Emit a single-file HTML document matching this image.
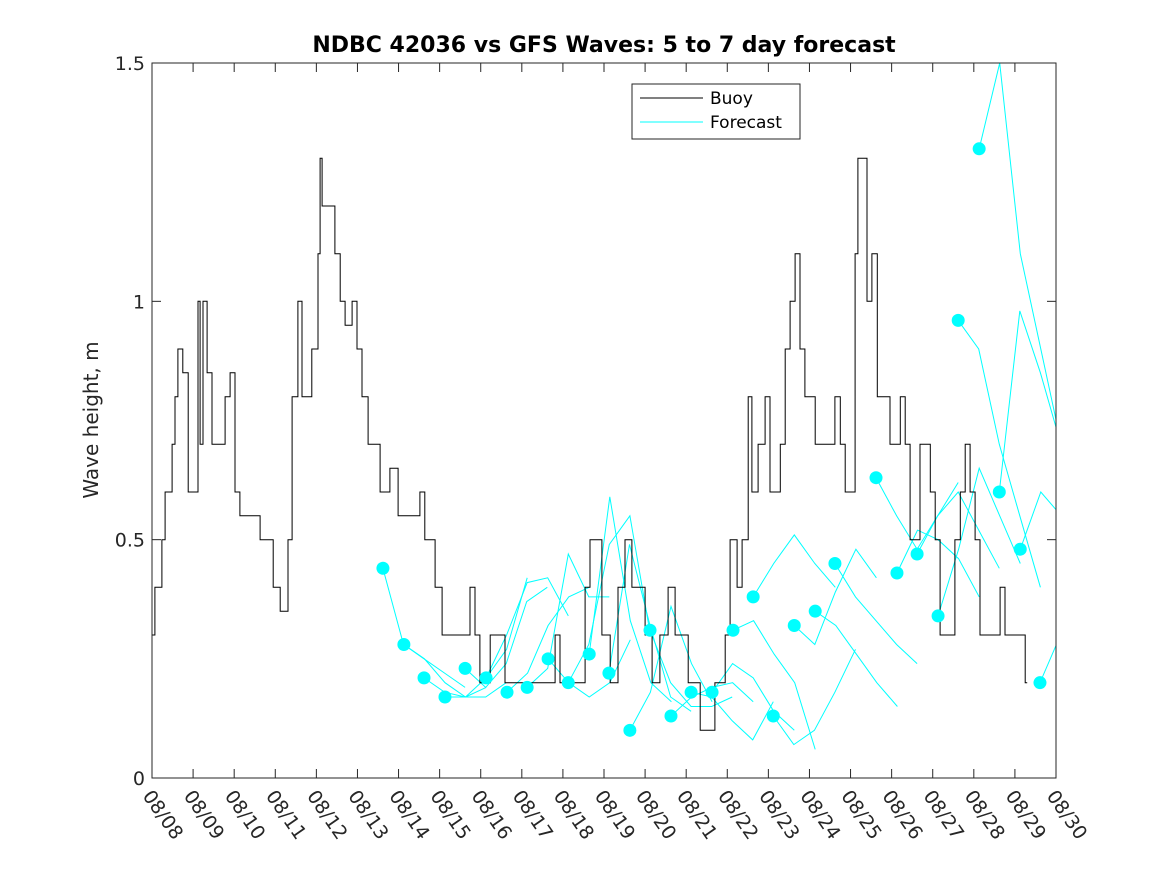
<!DOCTYPE html>
<html><head><meta charset="utf-8"><style>body{margin:0;background:#fff}svg{display:block;font-family:"DejaVu Sans","Liberation Sans",sans-serif}</style></head>
<body>
<svg id="chart" width="1167" height="875" xmlns="http://www.w3.org/2000/svg">
<rect width="1167" height="875" fill="#fff"/>
<defs><clipPath id="pc"><rect x="152" y="63" width="904" height="715"/></clipPath></defs>
<g id="series" clip-path="url(#pc)"></g>
<rect x="152" y="63" width="904" height="715" fill="none" stroke="#262626" stroke-width="1"/>
<g id="axes"></g>
<text x="604" y="52" text-anchor="middle" font-size="22" font-weight="bold" fill="#000">NDBC 42036 vs GFS Waves: 5 to 7 day forecast</text>
<text transform="translate(98,420) rotate(-90)" text-anchor="middle" font-size="20" fill="#262626">Wave height, m</text>
<g>
<rect x="632" y="84" width="168" height="55" fill="#fff" stroke="#262626" stroke-width="1"/>
<line x1="640" y1="98" x2="703" y2="98" stroke="#000" stroke-width="1"/>
<text x="710" y="104" font-size="17" fill="#000">Buoy</text>
<line x1="640" y1="122" x2="703" y2="122" stroke="#00ffff" stroke-width="1"/>
<text x="710" y="128" font-size="17" fill="#000">Forecast</text>
</g>
</svg>
<script>
const xTickLabels=["08/08","08/09","08/10","08/11","08/12","08/13","08/14","08/15","08/16","08/17","08/18","08/19","08/20","08/21","08/22","08/23","08/24","08/25","08/26","08/27","08/28","08/29","08/30"];
const yTicks=[0,0.5,1,1.5];
const yTickLabels=["0","0.5","1","1.5"];
const buoyDay=[0,.07,.24,.32,.49,.56,.63,.75,.88,1.07,1.12,1.17,1.24,1.34,1.46,1.66,1.78,1.90,2.02,2.14,2.39,2.63,2.82,2.95,3.12,3.31,3.41,3.55,3.65,3.89,4.04,4.09,4.14,4.33,4.45,4.58,4.70,4.87,4.99,5.11,5.26,5.43,5.55,5.79,5.99,6.28,6.52,6.64,6.82,6.89,7.06,7.25,7.62,7.74,7.86,7.98,8.23,8.47,8.59,8.84,9.69,9.81,9.93,10.42,10.54,10.66,10.86,10.95,11.15,11.34,11.51,11.68,11.88,12.00,12.17,12.36,12.56,12.73,12.85,13.05,13.22,13.34,13.58,13.70,13.83,13.95,14.07,14.24,14.36,14.51,14.60,14.75,14.92,15.04,15.16,15.29,15.41,15.53,15.65,15.77,15.89,16.14,16.38,16.62,16.75,16.87,16.99,17.11,17.18,17.28,17.40,17.52,17.65,17.84,17.96,18.08,18.21,18.33,18.45,18.57,18.69,18.81,18.94,19.06,19.18,19.42,19.54,19.67,19.79,19.91,20.03,20.15,20.52,20.64,20.76,21.13,21.25];
const buoyVal=[.3,.4,.5,.6,.7,.8,.9,.85,.6,.6,1.0,.7,1.0,.85,.7,.7,.8,.85,.6,.55,.55,.5,.5,.4,.35,.5,.8,1.0,.8,.9,1.1,1.3,1.2,1.2,1.1,1.0,.95,1.0,.9,.8,.7,.7,.6,.65,.55,.55,.6,.5,.5,.4,.3,.3,.3,.4,.3,.2,.3,.3,.2,.2,.2,.3,.2,.2,.4,.5,.5,.3,.2,.4,.5,.4,.4,.3,.2,.3,.4,.3,.3,.2,.2,.1,.1,.2,.2,.3,.5,.4,.5,.8,.6,.7,.8,.6,.6,.7,.9,1.0,1.1,.9,.8,.7,.7,.8,.7,.6,.6,1.1,1.3,1.3,1.0,1.1,.8,.8,.7,.7,.8,.7,.5,.5,.7,.7,.6,.5,.3,.3,.5,.6,.7,.6,.5,.3,.3,.4,.3,.3,.2];
const fcStart=[5.62,6.13,6.62,7.13,7.62,8.13,8.64,9.13,9.64,10.13,10.64,11.12,11.63,12.12,12.63,13.12,13.63,14.14,14.63,15.12,15.63,16.14,16.62,17.62,18.13,18.62,19.13,19.62,20.13,20.62,21.13,21.61];
const fcVals=[[.44,.28,.25,.22,.19],[.28,.25,.20,.17,.19],[.21,.18,.17,.17,.20],[.17,.17,.21,.27,.42],[.23,.19,.24,.37,.40],[.21,.30,.41,.42,.34],[.18,.22,.32,.38,.40],[.19,.23,.47,.38,.38],[.25,.20,.17,.20,.29],[.20,.28,.49,.55,.30],[.26,.59,.33,.20,.16],[.22,.49,.32,.17,.14],[.10,.18,.36,.24,.16],[.31,.20,.15,.15,.17],[.13,.17,.19,.20,.16],[.18,.17,.12,.08,.16],[.18,.24,.21,.14,.10],[.31,.33,.26,.20,.06],[.38,.45,.51,.45,.40],[.13,.07,.10,.18,.27],[.32,.28,.39,.48,.42],[.35,.32,.26,.20,.15],[.45,.38,.33,.28,.24],[.63,.55,.48,.55,.62],[.43,.52,.50,.46,.38],[.47,.55,.60,.52,.44],[.34,.48,.65,.55,.45],[.96,.90,.70,.55,.40],[1.32,1.50,1.10,.90,.70],[.60,.98,.85,.70,.55],[.48,.60,.55,.40,.35],[.20,.30,.28,.30]];
const fcStep=0.5;
const X0=152,X1=1056,Y0=778,Y1=63,NDAYS=22,YMAX=1.5;
const xs=d=>X0+(X1-X0)*d/NDAYS, ys=v=>Y0-(Y0-Y1)*v/YMAX;
const NS="http://www.w3.org/2000/svg";
function mk(tag,attrs,parent){const e=document.createElementNS(NS,tag);for(const k in attrs)e.setAttribute(k,attrs[k]);parent.appendChild(e);return e;}
const axes=document.getElementById('axes'),series=document.getElementById('series');
xTickLabels.forEach((lab,i)=>{const x=xs(i);
 const t1=mk('line',{x1:x,y1:Y0,x2:x,y2:Y0-9,stroke:'#262626'},axes);
 
 
 const t2=mk('line',{x1:x,y1:Y1,x2:x,y2:Y1+9,stroke:'#262626'},axes);
 
 
 const tx=mk('text',{transform:`translate(${x-10},${796}) rotate(55)`,'font-size':19,fill:'#262626'},axes);
 tx.textContent=lab;
 
 
});
yTicks.forEach((v,i)=>{const y=ys(v);
 const t1=mk('line',{x1:X0,y1:y,x2:X0+9,y2:y,stroke:'#262626'},axes);
 
 
 const t2=mk('line',{x1:X1,y1:y,x2:X1-9,y2:y,stroke:'#262626'},axes);
 
 
 const tx=mk('text',{x:X0-7,y:y+7,'text-anchor':'end','font-size':19,fill:'#262626'},axes);
 tx.textContent=yTickLabels[i];
 
 
});
fcStart.forEach((s,i)=>{const vals=fcVals[i];
 const pts=vals.map((v,j)=>xs(s+j*fcStep).toFixed(1)+','+ys(v).toFixed(1)).join(' ');
 const pl=mk('polyline',{points:pts,fill:'none',stroke:'#00ffff','stroke-width':1},series);
 
 
});
let d='';buoyDay.forEach((t,i)=>{const x=xs(t).toFixed(1),y=ys(buoyVal[i]).toFixed(1);
 if(i===0)d+=`M${x},${y}`;else d+=`H${x}V${y}`;});
d+=`H${xs(buoyDay[buoyDay.length-1]+0.05).toFixed(1)}`;
const bp=mk('path',{d:d,fill:'none',stroke:'#000','stroke-width':1},series);


fcStart.forEach((s,i)=>{
 const c=mk('circle',{cx:xs(s),cy:ys(fcVals[i][0]),r:6.5,fill:'#00ffff'},series);
 
 
});
</script>
</body></html>
